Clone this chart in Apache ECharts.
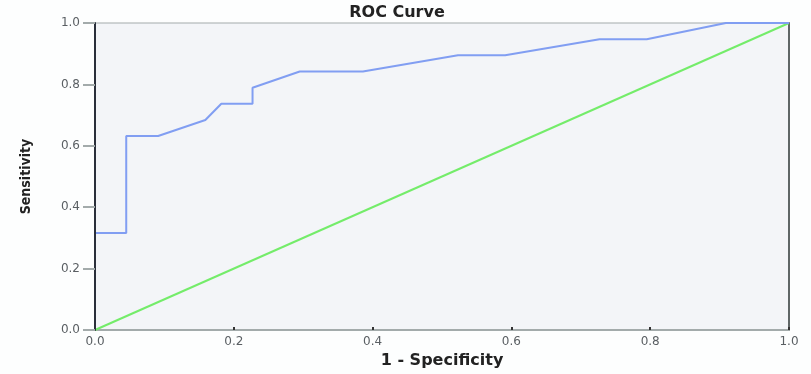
<!DOCTYPE html>
<html><head><meta charset="utf-8">
<script src="https://cdn.jsdelivr.net/npm/echarts@6/dist/echarts.min.js"></script>
<style>html,body{margin:0;padding:0;background:#fdfefe;}#c{width:811px;height:374px;}</style>
</head><body><div id="c"></div>
<script>
// ROC curve points (1 - specificity, sensitivity)
const rocX = [0, 0, 0.045, 0.045, 0.091, 0.159, 0.182, 0.227, 0.227, 0.295, 0.386, 0.523, 0.591, 0.727, 0.795, 0.909, 1.0];
const rocY = [0, 0.316, 0.316, 0.632, 0.632, 0.684, 0.737, 0.737, 0.789, 0.842, 0.842, 0.895, 0.895, 0.947, 0.947, 1.0, 1.0];
// Reference (chance) line
const refX = [0, 1];
const refY = [0, 1];
const tickLabels = ['0.0', '0.2', '0.4', '0.6', '0.8', '1.0'];

const chart = echarts.init(document.getElementById('c'), null, {renderer: 'canvas'});
const lab = {color: '#5a5f63', fontSize: 12, fontFamily: 'DejaVu Sans',
  formatter: v => tickLabels[Math.round(v * 5)] };
chart.setOption({
  animation: false,
  backgroundColor: '#fdfefe',
  title: {text: 'ROC Curve', left: 392, top: 0, textAlign: 'center',
    textStyle: {fontFamily: 'DejaVu Sans', fontWeight: 'bold', fontSize: 16, color: '#222'}},
  grid: {left: 95, right: 22, top: 23, bottom: 41, show: true,
    backgroundColor: '#f3f5f8', borderColor: '#a3abab', borderWidth: 1},
  xAxis: {type: 'value', min: 0, max: 1, interval: 0.2,
    name: '1 - Specificity', nameLocation: 'middle', nameGap: 23,
    nameTextStyle: {fontFamily: 'DejaVu Sans', fontWeight: 'bold', fontSize: 16, color: '#222'},
    axisLine: {show: true, lineStyle: {color: '#a3abab', width: 2}},
    axisTick: {show: true, inside: true, length: 3, lineStyle: {color: '#333', width: 2}},
    axisLabel: Object.assign({margin: 6}, lab),
    splitLine: {show: false}},
  yAxis: [{type: 'value', min: 0, max: 1, interval: 0.2, z: 10,
    name: 'Sensitivity', nameLocation: 'middle', nameGap: 62,
    nameTextStyle: {fontFamily: 'DejaVu Sans Condensed', fontWeight: 'bold', fontSize: 14, color: '#222'},
    axisLine: {show: true, lineStyle: {color: '#2a2f3a', width: 2}},
    axisTick: {show: true, length: 12, lineStyle: {color: '#a3abab', width: 2}},
    axisLabel: Object.assign({margin: 15}, lab),
    splitLine: {show: false}},
   {type: 'value', min: 0, max: 1, position: 'right',
    axisLine: {show: true, lineStyle: {color: '#5f6666', width: 2}},
    axisTick: {show: false}, axisLabel: {show: false}, splitLine: {show: false}}],
  series: [
    {type: 'line', data: refX.map((x, i) => [x, refY[i]]), showSymbol: false,
      lineStyle: {color: '#74ec6a', width: 2}, z: 2},
    {type: 'line', data: rocX.map((x, i) => [x, rocY[i]]), showSymbol: false,
      lineStyle: {color: '#819ef2', width: 2}, z: 3}
  ]
});
</script></body></html>
